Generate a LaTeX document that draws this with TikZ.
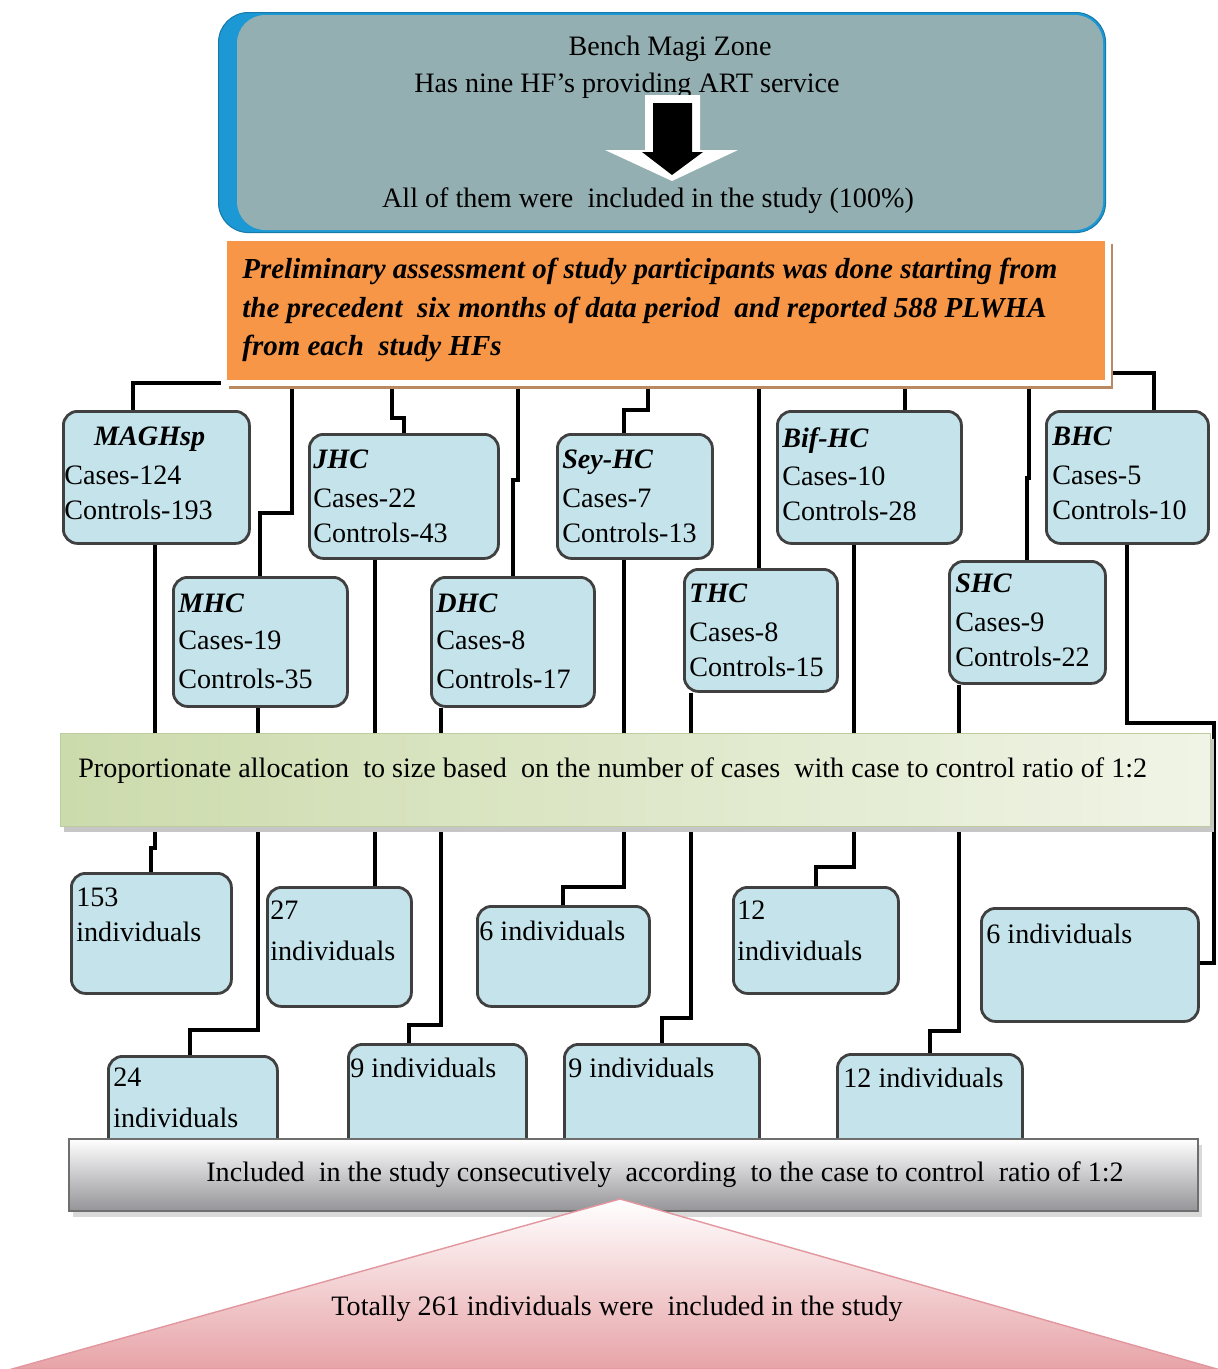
\documentclass[tikz,border=0pt]{standalone}
\usepackage{fontspec}
\setmainfont{Liberation Serif}
\usetikzlibrary{shadows,backgrounds}
\definecolor{zoneteal}{RGB}{148,175,178}
\definecolor{zoneblue}{RGB}{28,152,212}
\definecolor{prelimorange}{RGB}{247,150,70}
\definecolor{prelimshadow}{RGB}{185,138,98}
\definecolor{boxfill}{RGB}{197,227,234}
\definecolor{boxline}{RGB}{64,64,64}
\definecolor{greenA}{RGB}{204,219,172}
\definecolor{greenB}{RGB}{240,244,230}
\definecolor{greenline}{RGB}{190,205,160}
\definecolor{barline}{RGB}{110,110,110}
\definecolor{barbottom}{RGB}{148,148,152}
\definecolor{pinkbottom}{RGB}{231,163,167}
\definecolor{pinkedge}{RGB}{226,150,158}
\newcommand{\pxu}{0.02cm}
\newcommand{\hffont}{\fontsize{16}{19.9}\selectfont}
\tikzset{
  link/.style={line width=2.3pt, black},
  plaintxt/.style={anchor=base, inner sep=0pt, font=\hffont},
  zonebox/.style={anchor=north west, fill=zoneblue, draw=zoneblue!80!black,
    line width=0.6pt, rounded corners=17pt},
  prelimbox/.style={anchor=north west, fill=prelimorange, draw=white,
    line width=3.4pt, drop shadow={shadow xshift=0.1cm, shadow yshift=-0.12cm,
    fill=prelimshadow, opacity=1}},
  prelimtxt/.style={anchor=north west, align=left, inner sep=0pt,
    font=\fontsize{16.5}{21.9}\selectfont\bfseries\itshape},
  hfbox/.style={draw=boxline, fill=boxfill, line width=1.6pt,
    rounded corners=8pt, anchor=north west, inner sep=0pt},
  boxtxt/.style={anchor=north west, align=left, inner sep=0pt, font=\hffont},
  allocband/.style={anchor=north west, left color=greenA, right color=greenB,
    draw=greenline, line width=0.8pt, drop shadow={shadow xshift=0.07cm,
    shadow yshift=-0.1cm, fill=gray!45, opacity=1}},
  includeband/.style={anchor=north west, top color=white, bottom color=barbottom,
    draw=barline, line width=1.2pt, drop shadow={shadow xshift=0.07cm,
    shadow yshift=-0.12cm, fill=gray!30, opacity=1}},
  bandtxt/.style={anchor=base west, inner sep=0pt, font=\hffont},
}

\begin{document}
\begin{tikzpicture}[x=\pxu, y=-\pxu]
\useasboundingbox (0,0) rectangle (1217,1369);

% zone box with arrow
\node[zonebox, minimum width=887*\pxu, minimum height=220*\pxu] (zone) at (218,12) {};
\fill[zoneteal, rounded corners=16pt] (237,15) rectangle (1103,230);
\node[plaintxt] (zone-a) at (670,55) {Bench Magi Zone};
\node[plaintxt] (zone-b) at (627,92) {Has nine HF’s providing ART service};
\fill[white] (645,95) -- (700,95) -- (700,150) -- (738,150) -- (672,181)
  -- (605,150) -- (645,150) -- cycle;
\fill[black] (653,103) -- (692,103) -- (692,152) -- (703,152) -- (672,175)
  -- (642,152) -- (653,152) -- cycle;
\node[plaintxt] (zone-c) at (648,207) {All of them were\ \ included in the study (100\%)};

% preliminary assessment
\node[prelimbox, minimum width=884*\pxu, minimum height=145*\pxu] (prelim) at (221,235) {};
\node[prelimtxt] (prelim-t) at (242,258)
  {Preliminary assessment of study participants was done starting from\\
   the precedent\ \ six months of data period\ \ and reported 588 PLWHA\\
   from each\ \ study HFs};

% health facilities
\node[hfbox, minimum width=186*\pxu, minimum height=132*\pxu] (maghsp) at (62,410) {};
\node[boxtxt] (maghsp-t) at (64,427) {\hspace*{17pt}\textbf{\textit{MAGHsp}}\\[2pt]Cases-124\\Controls-193};
\node[hfbox, minimum width=189*\pxu, minimum height=124*\pxu] (jhc) at (308,433) {};
\node[boxtxt] (jhc-t) at (313,450) {\textbf{\textit{JHC}}\\[2pt]Cases-22\\Controls-43};
\node[hfbox, minimum width=155*\pxu, minimum height=124*\pxu] (sey) at (556,433) {};
\node[boxtxt] (sey-t) at (562,450) {\textbf{\textit{Sey-HC}}\\[2pt]Cases-7\\Controls-13};
\node[hfbox, minimum width=184*\pxu, minimum height=132*\pxu] (bif) at (776,410) {};
\node[boxtxt] (bif-t) at (782,427) {\textbf{\textit{Bif-HC}}\\[2pt]Cases-10\\Controls-28};
\node[hfbox, minimum width=162*\pxu, minimum height=132*\pxu] (bhc) at (1045,410) {};
\node[boxtxt] (bhc-t) at (1052,427) {\textbf{\textit{BHC}}\\[2pt]Cases-5\\Controls-10};
\node[hfbox, minimum width=174*\pxu, minimum height=129*\pxu] (mhc) at (172,576) {};
\node[boxtxt] (mhc-t) at (178,594) {\textbf{\textit{MHC}}\\[1pt]Cases-19\\[2pt]Controls-35};
\node[hfbox, minimum width=163*\pxu, minimum height=129*\pxu] (dhc) at (430,576) {};
\node[boxtxt] (dhc-t) at (436,594) {\textbf{\textit{DHC}}\\[1pt]Cases-8\\[2pt]Controls-17};
\node[hfbox, minimum width=153*\pxu, minimum height=122*\pxu] (thc) at (683,568) {};
\node[boxtxt] (thc-t) at (689,584) {\textbf{\textit{THC}}\\[2pt]Cases-8\\Controls-15};
\node[hfbox, minimum width=156*\pxu, minimum height=122*\pxu] (shc) at (948,560) {};
\node[boxtxt] (shc-t) at (955,574) {\textbf{\textit{SHC}}\\[2pt]Cases-9\\Controls-22};

% individuals per facility
\node[hfbox, minimum width=160*\pxu, minimum height=120*\pxu] (ind153) at (70,872) {};
\node[boxtxt] (ind153-t) at (76,888) {153\\individuals};
\node[hfbox, minimum width=144*\pxu, minimum height=119*\pxu] (ind27) at (266,886) {};
\node[boxtxt] (ind27-t) at (270,901) {27\\[3pt]individuals};
\node[hfbox, minimum width=172*\pxu, minimum height=100*\pxu] (ind6a) at (476,905) {};
\node[boxtxt] (ind6a-t) at (479,921) {6 individuals};
\node[hfbox, minimum width=165*\pxu, minimum height=106*\pxu] (ind12a) at (732,886) {};
\node[boxtxt] (ind12a-t) at (737,901) {12\\[3pt]individuals};
\node[hfbox, minimum width=217*\pxu, minimum height=113*\pxu] (ind6b) at (980,907) {};
\node[boxtxt] (ind6b-t) at (986,924) {6 individuals};
\node[hfbox, minimum width=169*\pxu, minimum height=100*\pxu] (ind24) at (107,1055) {};
\node[boxtxt] (ind24-t) at (113,1068) {24\\[3pt]individuals};
\node[hfbox, minimum width=178*\pxu, minimum height=110*\pxu] (ind9a) at (347,1043) {};
\node[boxtxt] (ind9a-t) at (350,1058) {9 individuals};
\node[hfbox, minimum width=195*\pxu, minimum height=110*\pxu] (ind9b) at (563,1043) {};
\node[boxtxt] (ind9b-t) at (568,1058) {9 individuals};
\node[hfbox, minimum width=185*\pxu, minimum height=100*\pxu] (ind12b) at (836,1053) {};
\node[boxtxt] (ind12b-t) at (843,1068) {12 individuals};

% allocation and inclusion bands
\node[allocband, minimum width=1150*\pxu, minimum height=93*\pxu] (alloc) at (60,733) {};
\node[bandtxt] (alloc-t) at (78,777)
  {Proportionate allocation\ \ to size based\ \ on the number of cases\ \ with case to control ratio of 1:2};
\node[includeband, minimum width=1129*\pxu, minimum height=72*\pxu] (include) at (68,1138) {};
\node[bandtxt] (include-t) at (206,1181)
  {Included\ \ in the study consecutively\ \ according\ \ to the case to control\ \ ratio of 1:2};

% total
\path[top color=white, bottom color=pinkbottom, draw=pinkedge, line width=0.8pt]
  (620,1199) -- (1217,1369) -- (12,1369) -- cycle;
\node[plaintxt] (total) at (617,1315) {Totally 261 individuals were\ \ included in the study};

\begin{pgfonlayer}{background}
  \draw[link] (prelim.west |- 0,383) -| (maghsp.north -| 133,0);
  \draw[link] (maghsp.south -| 155,0) -- (155,848) -| (ind153.north);
  \draw[link] (prelim.south -| 292,0) -- (292,513) -| (mhc.north);
  \draw[link] (mhc.south -| 258,0) -- (258,1030) -| (ind24.north -| 190,0);
  \draw[link] (prelim.south -| 392,0) -- (392,418) -| (jhc.north);
  \draw[link] (jhc.south -| 375,0) -- (ind27.north -| 375,0);
  \draw[link] (prelim.south -| 518,0) -- (518,480) -| (dhc.north);
  \draw[link] (dhc.south -| 441,0) -- (441,1025) -| (ind9a.north -| 409,0);
  \draw[link] (prelim.south -| 648,0) -- (648,410) -| (sey.north -| 624,0);
  \draw[link] (sey.south -| 624,0) -- (624,887) -| (ind6a.north);
  \draw[link] (prelim.south -| 759,0) -- (thc.north -| 759,0);
  \draw[link] (thc.south -| 691,0) -- (691,1018) -| (ind9b.north);
  \draw[link] (prelim.south -| 905,0) -- (bif.north -| 905,0);
  \draw[link] (bif.south -| 854,0) -- (854,867) -| (ind12a.north);
  \draw[link] (prelim.south -| 1029,0) -- (1029,478) -| (shc.north);
  \draw[link] (shc.south -| 959,0) -- (959,1031) -| (ind12b.north -| 930,0);
  \draw[link] (prelim.east |- 0,373) -| (bhc.north -| 1154,0);
  \draw[link] (bhc.south -| 1127,0) -- (1127,723) -- (1214,723) |- (ind6b.east |- 0,963);
\end{pgfonlayer}
\end{tikzpicture}
\end{document}
